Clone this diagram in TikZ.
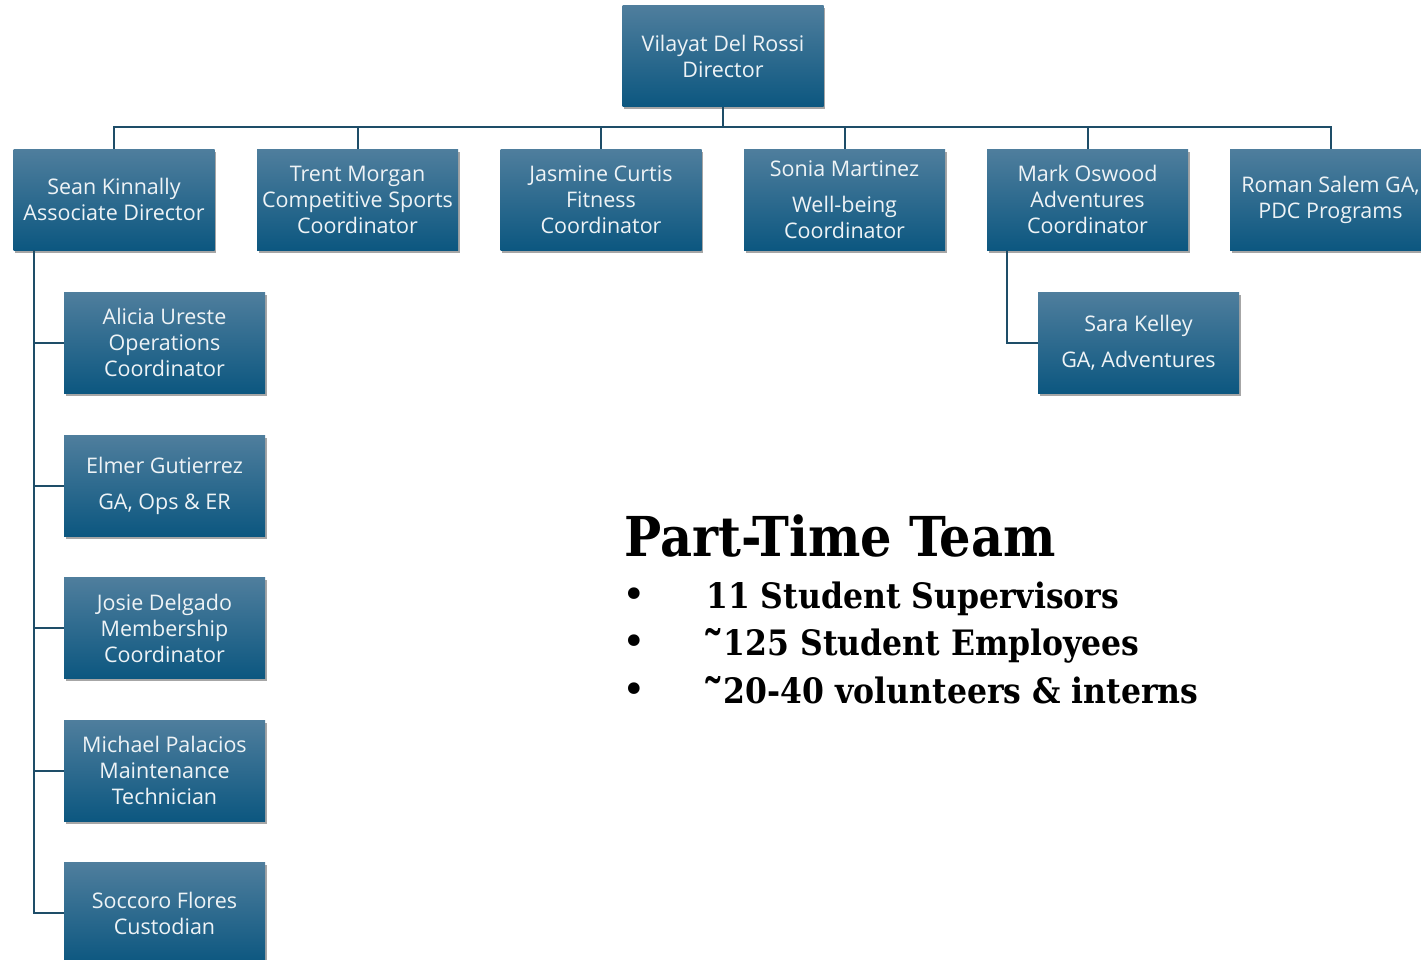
\documentclass[tikz,border=0pt]{standalone}
\usepackage{fontspec}
\setmainfont{Open Sans}
\newfontfamily\titlefont{DejaVu Serif Condensed}[BoldFont={DejaVu Serif Condensed Bold}]
\newfontfamily\dotfont{DejaVu Sans}
\usetikzlibrary{shadows}
\definecolor{boxtop}{HTML}{4F7E9D}
\definecolor{boxbot}{HTML}{0C5780}
\definecolor{linec}{HTML}{1E4D68}
\definecolor{txt}{HTML}{EEF3F6}
\tikzset{
  orgbox/.style={rectangle, minimum width=201pt, minimum height=101pt, inner sep=0pt,
    top color=boxtop, bottom color=boxbot, draw=none,
    drop shadow={shadow xshift=1.5pt, shadow yshift=-2.5pt, fill=black, opacity=.35},
    text=txt, align=center, font=\fontsize{21.5}{26}\selectfont},
  conn/.style={draw=linec, line width=2pt},
  bul/.style={anchor=base west, font=\titlefont\bfseries\fontsize{35}{40}\selectfont},
  dot/.style={anchor=base west, font=\dotfont\fontsize{40}{40}\selectfont, inner sep=0pt},
}
\newcommand{\hightilde}{{\fontsize{48}{40}\selectfont\raisebox{-11pt}{\char"02DC}}}
\begin{document}
\begin{tikzpicture}[x=1pt,y=-1pt]
\useasboundingbox (0,0) rectangle (1421,959);
\clip (0,0) rectangle (1421,959);
\fill[white] (0,0) rectangle (1421,959);
\coordinate (bus) at (723,127);
\node[orgbox] (dir) at (723,56) {Vilayat Del Rossi\\Director};
\node[orgbox] (sean) at (114,199.5) {Sean Kinnally\\Associate Director};
\node[orgbox] (trent) at (357.5,199.5) {Trent Morgan\\Competitive Sports\\Coordinator};
\node[orgbox] (jas) at (601,199.5) {Jasmine Curtis\\Fitness\\Coordinator};
\node[orgbox] (sonia) at (844.5,199.5) {Sonia Martinez\\[10pt]Well-being\\Coordinator};
\node[orgbox] (mark) at (1087.5,199.5) {Mark Oswood\\Adventures\\Coordinator};
\node[orgbox] (roman) at (1330.5,199.5) {Roman Salem GA,\\PDC Programs};
\node[orgbox] (sara) at (1138.5,342.5) {Sara Kelley\\[10pt]GA, Adventures};
\node[orgbox] (alicia) at (164.5,342.5) {Alicia Ureste\\Operations\\Coordinator};
\node[orgbox] (elmer) at (164.5,485.5) {Elmer Gutierrez\\[10pt]GA, Ops \& ER};
\node[orgbox] (josie) at (164.5,628) {Josie Delgado\\Membership\\Coordinator};
\node[orgbox] (mich) at (164.5,770.5) {Michael Palacios\\Maintenance\\Technician};
\node[orgbox] (socc) at (164.5,913) {Soccoro Flores\\Custodian};
% connectors
\draw[conn] (dir.south) -- (bus);
\draw[conn] (sean.north) |- (roman.north |- bus) -- (roman.north);
\foreach \n in {trent,jas,sonia,mark} \draw[conn] (bus -| \n.north) -- (\n.north);
\draw[conn] (sean.south -| 34,0) |- (socc.west);
\foreach \n in {alicia,elmer,josie,mich} \draw[conn] (34,0 |- \n.west) -- (\n.west);
\draw[conn] (mark.south -| 1007,0) |- (sara.west);
% part-time text
\node[anchor=base west, font=\titlefont\bfseries\fontsize{55}{60}\selectfont, inner sep=0pt] (title) at (624,556) {Part-Time Team};
\node[dot] (b1) at (622,608) {•};
\node[dot] (b2) at (622,655) {•};
\node[dot] (b3) at (622,703) {•};
\node[bul, inner sep=0pt] (t1) at (706,608) {11 Student Supervisors};
\node[bul, inner sep=0pt] (t2) at (702,655) {\hightilde125 Student Employees};
\node[bul, inner sep=0pt] (t3) at (702,703) {\hightilde20-40 volunteers \& interns};
\end{tikzpicture}
\end{document}
